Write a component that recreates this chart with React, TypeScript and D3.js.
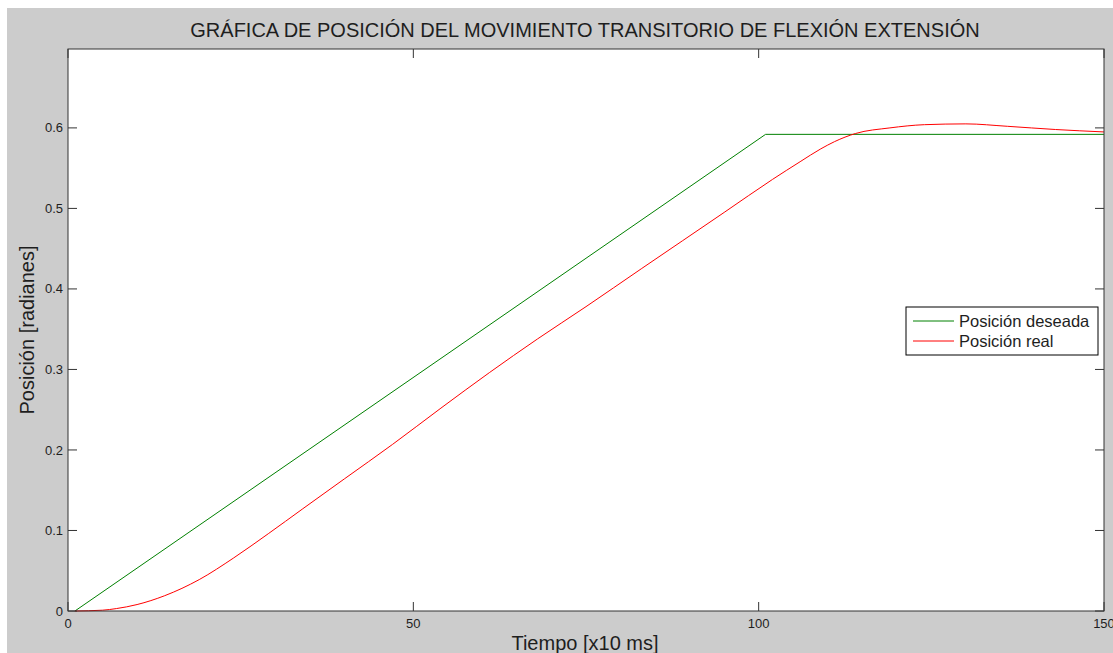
import React from "react";
import * as d3 from "d3";

const TITLE = "GRÁFICA DE POSICIÓN DEL MOVIMIENTO TRANSITORIO DE FLEXIÓN EXTENSIÓN";
const X_LABEL = "Tiempo [x10 ms]";
const Y_LABEL = "Posición [radianes]";
const X_TICKS = [0, 50, 100, 150];
const Y_TICKS = [0, 0.1, 0.2, 0.3, 0.4, 0.5, 0.6];
const SERIES_NAMES = ["Posición deseada", "Posición real"];
const SERIES_COLORS = ["#008000", "#ff0000"];

const desiredT = [1, 101, 150];
const desiredV = [0, 0.592, 0.592];

const realT = [1, 5, 7, 10, 14, 19, 24, 29, 34, 40, 47, 54, 61, 68, 75, 83, 89, 95, 102, 106, 109, 111, 114, 119, 124, 130, 136, 143, 150];
const realV = [0, 0.001, 0.003, 0.008, 0.019, 0.039, 0.066, 0.096, 0.127, 0.164, 0.207, 0.252, 0.296, 0.338, 0.378, 0.425, 0.46, 0.495, 0.536, 0.558, 0.574, 0.583, 0.593, 0.6, 0.604, 0.605, 0.602, 0.598, 0.595];

const W = 1113;
const H = 653;
const L = 68, R = 1104, T = 49, B = 611;

export default function App() {
  const x = d3.scaleLinear().domain([0, 150]).range([L, R]);
  const y = d3.scaleLinear().domain([0, 0.698]).range([B, T]);

  const desired = desiredT.map((t, i) => [t, desiredV[i]] as [number, number]);
  const real = realT.map((t, i) => [t, realV[i]] as [number, number]);

  const linLine = d3.line<[number, number]>().x(d => x(d[0])).y(d => y(d[1]));
  const smoothLine = d3.line<[number, number]>().x(d => x(d[0])).y(d => y(d[1])).curve(d3.curveMonotoneX);

  const font = "Arial, 'Liberation Sans', sans-serif";
  const axisColor = "#333";
  const textColor = "#1e1e1e";
  const tickLen = 9;

  const legX = 906, legY = 307, legW = 192, legH = 48;

  return (
    <svg width={W} height={H} style={{ position: "absolute", left: 0, top: 0 }} fontFamily={font}>
      <rect x={0} y={0} width={W} height={H} fill="#ffffff" />
      <rect x={7} y={8} width={W - 7} height={H - 8} fill="#cccccc" />
      <rect x={L} y={T} width={R - L} height={B - T} fill="#ffffff" />

      <text x={585} y={37} textAnchor="middle" fontSize={20} fill={textColor}>{TITLE}</text>

      {/* lines */}
      <path d={linLine(desired) || ""} fill="none" stroke={SERIES_COLORS[0]} strokeWidth={1} />
      <path d={smoothLine(real) || ""} fill="none" stroke={SERIES_COLORS[1]} strokeWidth={1} />

      {/* box */}
      <rect x={L} y={T} width={R - L} height={B - T} fill="none" stroke={axisColor} strokeWidth={1} />

      {/* y ticks */}
      {Y_TICKS.map(v => (
        <g key={"y" + v}>
          <line x1={L} x2={L + tickLen} y1={y(v)} y2={y(v)} stroke={axisColor} />
          <line x1={R} x2={R - tickLen} y1={y(v)} y2={y(v)} stroke={axisColor} />
          <text x={L - 5} y={y(v)} dy="0.35em" textAnchor="end" fontSize={13} fill={textColor}>{v === 0 ? "0" : v.toFixed(1)}</text>
        </g>
      ))}

      {/* x ticks */}
      {X_TICKS.map(v => (
        <g key={"x" + v}>
          <line x1={x(v)} x2={x(v)} y1={B} y2={B - tickLen} stroke={axisColor} />
          <line x1={x(v)} x2={x(v)} y1={T} y2={T + tickLen} stroke={axisColor} />
          <text x={x(v)} y={B + 17} textAnchor="middle" fontSize={13} fill={textColor}>{String(v)}</text>
        </g>
      ))}

      <text x={585} y={650} textAnchor="middle" fontSize={20} fill={textColor}>{X_LABEL}</text>
      <text transform={`translate(34, 330) rotate(-90)`} textAnchor="middle" fontSize={20} fill={textColor}>{Y_LABEL}</text>

      {/* legend */}
      <rect x={legX} y={legY} width={legW} height={legH} fill="#ffffff" stroke="#000" strokeWidth={1} />
      {SERIES_NAMES.map((name, i) => (
        <g key={name}>
          <line x1={913} x2={954} y1={legY + 14 + i * 20} y2={legY + 14 + i * 20} stroke={SERIES_COLORS[i]} />
          <text x={959} y={legY + 14 + i * 20} dy="0.35em" fontSize={16.5} fill={textColor}>{name}</text>
        </g>
      ))}
    </svg>
  );
}
